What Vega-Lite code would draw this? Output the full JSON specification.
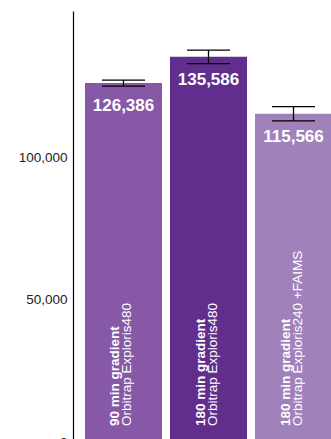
{
  "$schema": "https://vega.github.io/schema/vega-lite/v6.json",
  "width": 271,
  "height": 431,
  "autosize": "none",
  "padding": {"left": 73, "top": 11, "right": 0, "bottom": 0},
  "background": "white",
  "config": {"view": {"stroke": null}, "font": "Liberation Sans"},
  "data": {
    "values": [
      {"id": 1, "run": "90 min gradient", "instrument": "Orbitrap Exploris480", "ids": 126386, "lo": 125250, "hi": 127360},
      {"id": 2, "run": "180 min gradient", "instrument": "Orbitrap Exploris480", "ids": 135586, "lo": 133200, "hi": 137920},
      {"id": 3, "run": "180 min gradient", "instrument": "Orbitrap Exploris240 +FAIMS", "ids": 115566, "lo": 113030, "hi": 118060}
    ]
  },
  "encoding": {
    "x": {"field": "id", "type": "ordinal", "axis": null, "scale": {"paddingInner": 0.094, "paddingOuter": 0.141}}
  },
  "layer": [
    {
      "mark": {"type": "bar"},
      "encoding": {
        "y": {"field": "ids", "type": "quantitative", "scale": {"domain": [0, 151700], "nice": false, "zero": true},
          "axis": {"values": [0, 50000, 100000], "format": ",d", "ticks": false, "labelPadding": 6, "grid": false, "title": null,
            "domainColor": "#000000", "domainWidth": 1.2, "labelFontSize": 13.5, "labelColor": "#222222", "labelFont": "Liberation Sans"}},
        "color": {"field": "id", "type": "nominal", "legend": null,
          "scale": {"domain": [1, 2, 3], "range": ["#8658A6", "#622E8D", "#A181BA"]}}
      }
    },
    {
      "mark": {"type": "text", "dy": 28, "baseline": "alphabetic", "align": "center", "fontSize": 17, "fontWeight": "bold", "color": "#ffffff"},
      "encoding": {
        "y": {"field": "ids", "type": "quantitative"},
        "text": {"field": "ids", "type": "quantitative", "format": ",d"}
      }
    },
    {
      "mark": {"type": "text", "angle": 270, "align": "left", "baseline": "alphabetic", "dx": 16, "dy": -4, "fontSize": 13.5, "fontWeight": "bold", "color": "#ffffff"},
      "encoding": {
        "y": {"datum": 0, "type": "quantitative"},
        "text": {"field": "run", "type": "nominal"}
      }
    },
    {
      "mark": {"type": "text", "angle": 270, "align": "left", "baseline": "alphabetic", "dx": 16, "dy": 8, "fontSize": 13.5, "fontWeight": "normal", "color": "#ffffff"},
      "encoding": {
        "y": {"datum": 0, "type": "quantitative"},
        "text": {"field": "instrument", "type": "nominal"}
      }
    },
    {
      "mark": {"type": "rule", "color": "#000000", "strokeWidth": 1.3},
      "encoding": {
        "y": {"field": "lo", "type": "quantitative"},
        "y2": {"field": "hi"}
      }
    },
    {
      "mark": {"type": "tick", "color": "#000000", "size": 43, "thickness": 1.3, "opacity": 1},
      "encoding": {"y": {"field": "lo", "type": "quantitative"}}
    },
    {
      "mark": {"type": "tick", "color": "#000000", "size": 43, "thickness": 1.3, "opacity": 1},
      "encoding": {"y": {"field": "hi", "type": "quantitative"}}
    }
  ]
}
